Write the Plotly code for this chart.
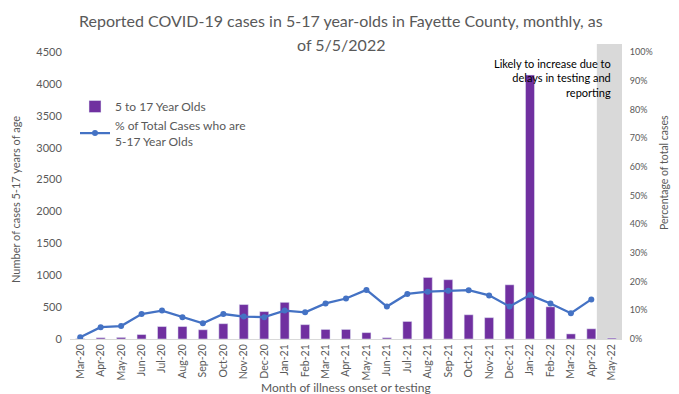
import plotly.graph_objects as go

months = ["Mar-20","Apr-20","May-20","Jun-20","Jul-20","Aug-20","Sep-20","Oct-20","Nov-20","Dec-20",
          "Jan-21","Feb-21","Mar-21","Apr-21","May-21","Jun-21","Jul-21","Aug-21","Sep-21","Oct-21",
          "Nov-21","Dec-21","Jan-22","Feb-22","Mar-22","Apr-22","May-22"]
cases = [5, 20, 25, 70, 195, 195, 145, 240, 540, 430,
         575, 225, 150, 150, 100, 20, 275, 965, 930, 380,
         335, 850, 4140, 505, 80, 160, 15]
pct = [0.006, 0.041, 0.045, 0.087, 0.099, 0.076, 0.055, 0.087, 0.078, 0.076,
       0.099, 0.093, 0.124, 0.141, 0.171, 0.113, 0.157, 0.165, 0.168, 0.170,
       0.152, 0.113, 0.153, 0.124, 0.090, 0.138, None]

grey = "#595959"
OFF = 8  # page body margin
W, H = 679 - OFF, 394 - OFF
# plot area in window pixels: x 70..622, y 52..339
L = 70 - OFF
T = 52 - OFF
R = W - (622 - OFF)
B = H - (339 - OFF)
PH = H - T - B
PW = W - L - R

def px_x(x):  # window px -> paper
    return (x - 70) / PW

def px_y(y):
    return (339 - y) / PH

fig = go.Figure()
fig.add_trace(go.Bar(x=months, y=cases, name="5 to 17 Year Olds", marker_color="#7030A0",
                     width=0.44, yaxis="y"))
fig.add_trace(go.Scatter(x=months, y=pct, name="% of Total Cases who are<br>5-17 Year Olds",
                         mode="lines+markers", line=dict(color="#4472C4", width=2.25),
                         marker=dict(size=6, color="#4472C4"), yaxis="y2"))

fig.add_shape(type="rect", xref="x", yref="paper", x0=25.27, x1=26.5, y0=0, y1=px_y(44),
              fillcolor="#D9D9D9", line_width=0, layer="below")

fig.add_annotation(text="Likely to increase due to<br>delays in testing and<br>reporting",
                   xref="paper", yref="paper", x=px_x(613), y=px_y(55),
                   xanchor="right", yanchor="top", align="right", showarrow=False,
                   font=dict(family="Lato", size=11, color="#000000"))

# title lines
for txt, yc in [("Reported COVID-19 cases in 5-17 year-olds in Fayette County, monthly, as", 20),
                ("of 5/5/2022", 44)]:
    fig.add_annotation(text=txt, xref="paper", yref="paper", x=px_x(341), y=px_y(yc),
                       xanchor="center", yanchor="middle", showarrow=False,
                       font=dict(family="Lato", size=16, color=grey))

# axis titles
fig.add_annotation(text="Number of cases 5-17 years of age", xref="paper", yref="paper",
                   x=px_x(15), y=px_y(200), xanchor="center", yanchor="middle", textangle=-90,
                   showarrow=False, font=dict(family="Lato", size=11, color=grey))
fig.add_annotation(text="Percentage of total cases", xref="paper", yref="paper",
                   x=px_x(664), y=px_y(172), xanchor="center", yanchor="middle", textangle=-90,
                   showarrow=False, font=dict(family="Lato", size=10.5, color=grey))
fig.add_annotation(text="Month of illness onset or testing", xref="paper", yref="paper",
                   x=px_x(346), y=px_y(387), xanchor="center", yanchor="middle",
                   showarrow=False, font=dict(family="Lato", size=12, color=grey))

fig.update_layout(
    width=W, height=H,
    margin=dict(l=L, r=R, t=T, b=B),
    paper_bgcolor="white", plot_bgcolor="white",
    font=dict(family="Lato", color=grey),
    xaxis=dict(type="category", tickangle=-90, tickfont=dict(size=10.5, color=grey),
               showgrid=False, showline=True, linecolor="#D9D9D9", ticks="",
               range=[-0.5, 26.5], automargin=False),
    yaxis=dict(range=[0, 4500], dtick=500, showgrid=False, zeroline=False, automargin=False,
               ticks="outside", ticklen=5, tickcolor="rgba(0,0,0,0)",
               tickfont=dict(size=11, color=grey)),
    yaxis2=dict(range=[0, 1], dtick=0.1, tickformat=".0%", overlaying="y", side="right",
                ticks="outside", ticklen=5, tickcolor="rgba(0,0,0,0)",
                showgrid=False, zeroline=False, automargin=False, tickfont=dict(size=9, color=grey)),
    legend=dict(x=px_x(75), y=px_y(92), xanchor="left", yanchor="top",
                bgcolor="rgba(0,0,0,0)", font=dict(size=12, color=grey), tracegroupgap=8,
                itemwidth=30),
    showlegend=True,
    bargap=0.5,
)

fig.write_html("out.html")
